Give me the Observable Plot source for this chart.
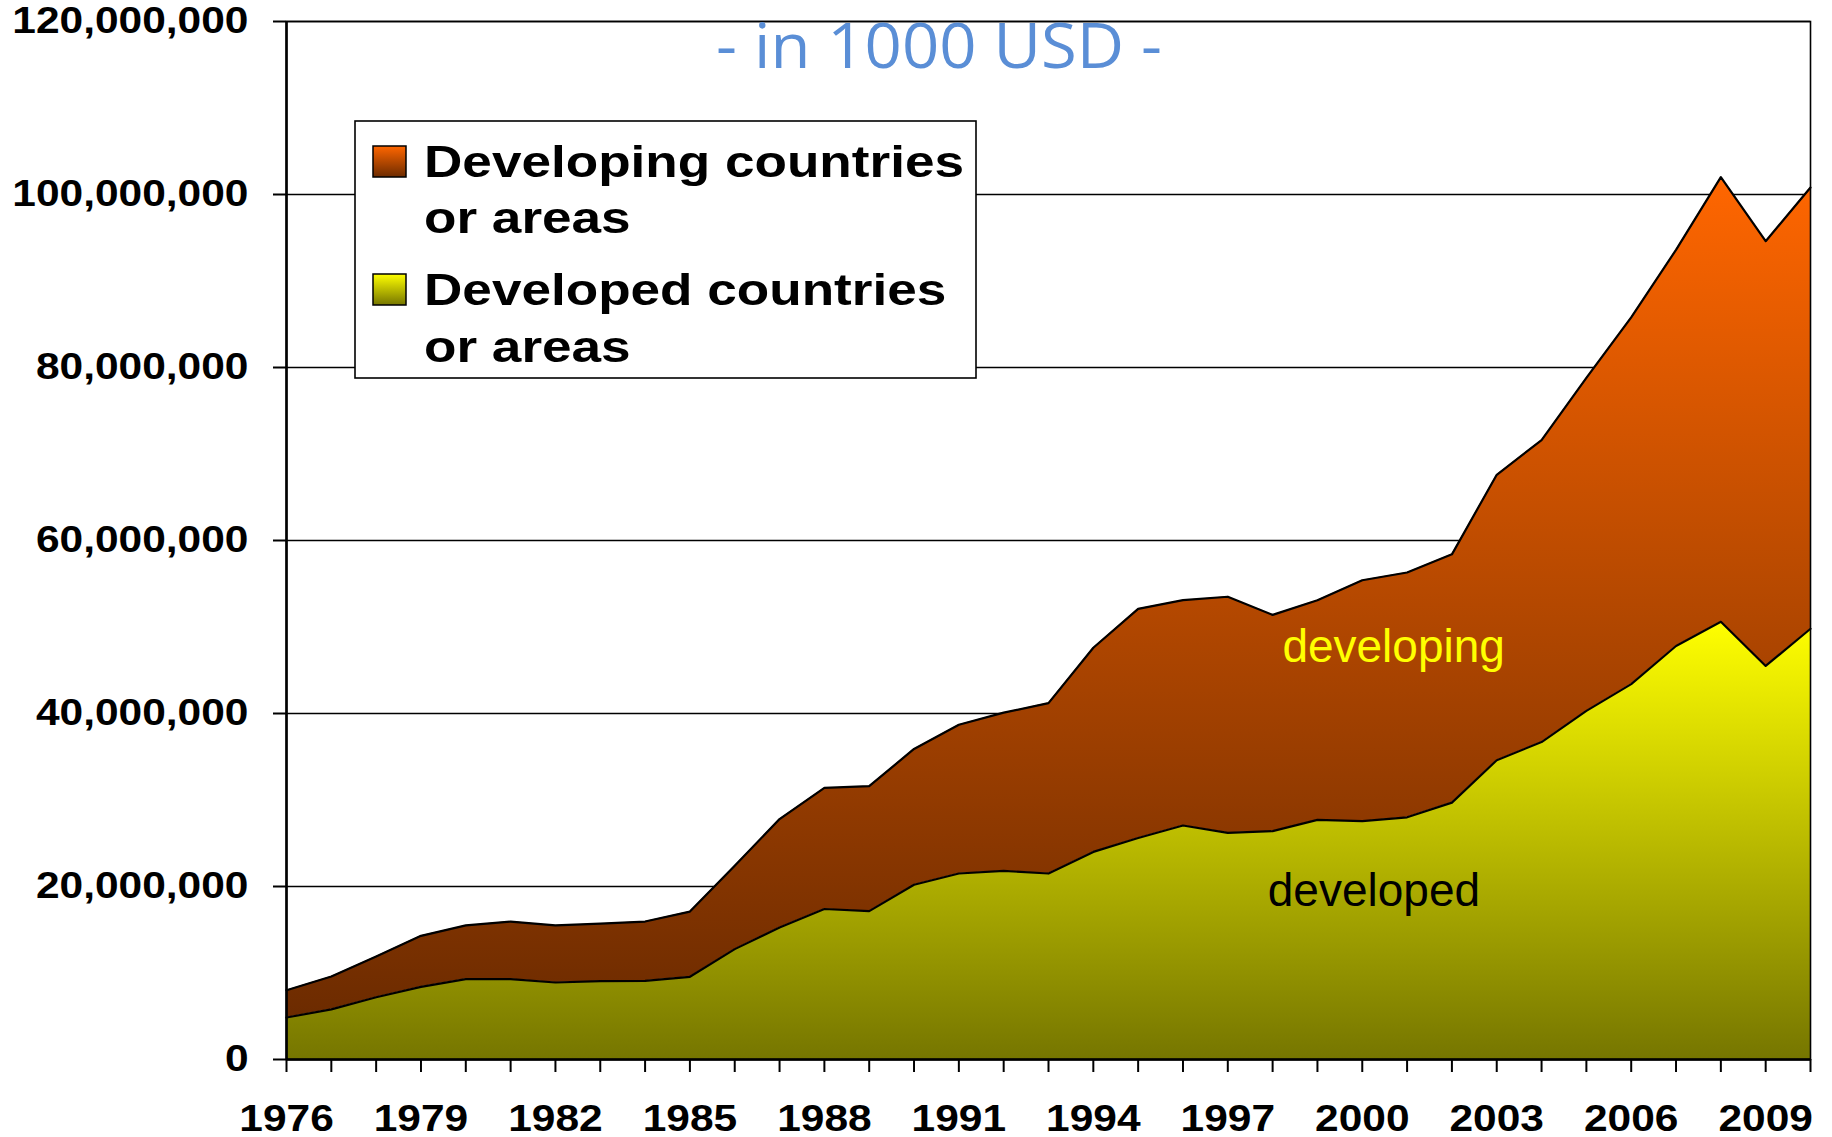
<!DOCTYPE html>
<html>
<head>
<meta charset="utf-8">
<script src="https://cdn.jsdelivr.net/npm/d3@7"></script>
<script src="https://cdn.jsdelivr.net/npm/@observablehq/plot@0.6"></script>
<style>
  html, body { margin: 0; padding: 0; background: #fff; overflow: hidden; }
  #chart { position: relative; width: 1832px; height: 1137px; }
</style>
</head>
<body>
<div id="chart"></div>
<script>
// ---- Data (values in 1000 USD) ----
const years = [1976, 1977, 1978, 1979, 1980, 1981, 1982, 1983, 1984, 1985, 1986, 1987, 1988, 1989, 1990,
  1991, 1992, 1993, 1994, 1995, 1996, 1997, 1998, 1999, 2000, 2001, 2002, 2003, 2004, 2005, 2006, 2007, 2008, 2009, 2010];

const developed = [4860000, 5800000, 7200000, 8400000, 9300000, 9300000, 8900000, 9060000, 9100000, 9560000,
  12760000, 15260000, 17400000, 17150000, 20200000, 21500000, 21800000, 21500000, 24000000, 25600000,
  27050000, 26200000, 26400000, 27700000, 27550000, 28000000, 29700000, 34600000, 36700000, 40300000,
  43400000, 47800000, 50600000, 45500000, 49800000];

const developing = [3140000, 3800000, 4700000, 5900000, 6200000, 6650000, 6600000, 6640000, 6850000, 7540000,
  9640000, 12540000, 14000000, 14450000, 15700000, 17200000, 18300000, 19700000, 23600000, 26500000,
  26050000, 27300000, 25000000, 25400000, 27850000, 28300000, 28700000, 33000000, 34900000, 38500000,
  42400000, 45800000, 51400000, 49100000, 51000000];

const seriesNames = ["Developed countries or areas", "Developing countries or areas"];
const legendLines = [["Developing countries", "or areas"], ["Developed countries", "or areas"]];
const xLabelYears = [1976, 1979, 1982, 1985, 1988, 1991, 1994, 1997, 2000, 2003, 2006, 2009];
const yTicks = [0, 20000000, 40000000, 60000000, 80000000, 100000000, 120000000];
const titleText = "- in 1000 USD -";
const areaLabels = [
  {text: "developing", year: 2000.7, value: 47600000},
  {text: "developed", year: 2000.26, value: 19500000}
];

// ---- Build table ----
const rows = years.flatMap((year, i) => [
  {year, series: seriesNames[0], value: developed[i]},
  {year, series: seriesNames[1], value: developing[i]}
]);

const plot = Plot.plot({
  width: 1832,
  height: 1137,
  marginLeft: 286,
  marginRight: 22,
  marginTop: 21,
  marginBottom: 78,
  style: {
    fontFamily: "'Liberation Sans', Arial, sans-serif",
    fontSize: "36px",
    fontWeight: "bold",
    color: "black",
    background: "white",
    overflow: "visible"
  },
  x: {domain: [1976, 2010]},
  y: {domain: [0, 120000000]},
  color: {domain: seriesNames, range: ["url(#gDeveloped)", "url(#gDeveloping)"]},
  marks: [
    Plot.gridY(yTicks, {stroke: "black", strokeOpacity: 1, strokeWidth: 1.6}),
    Plot.areaY(rows, Plot.stackY({x: "year", y: "value", z: "series", fill: "series"})),
    Plot.lineY(rows, Plot.stackY2({x: "year", y: "value", z: "series", stroke: "black", strokeWidth: 2.2})),
    Plot.frame({stroke: "black", strokeWidth: 1.6}),
    Plot.ruleX([1976], {stroke: "black", strokeWidth: 2.6}),
    Plot.ruleY([0], {stroke: "black", strokeWidth: 2.6}),
    Plot.axisY({ticks: yTicks, tickFormat: d3.format(","), tickSize: 13, tickPadding: 25,
      strokeWidth: 2, fontSize: 36, fontWeight: "bold", label: null}),
    Plot.axisX({ticks: years, tickFormat: d => xLabelYears.includes(d) ? String(d) : "",
      tickSize: 13, tickPadding: 33, strokeWidth: 2, fontSize: 36, fontWeight: "bold", label: null}),
    Plot.text([areaLabels[0]], {x: "year", y: "value", text: "text", fill: "#ffff00",
      fontSize: 46, fontWeight: "normal", textAnchor: "middle", fontFamily: "'Liberation Sans', Arial, sans-serif"}),
    Plot.text([areaLabels[1]], {x: "year", y: "value", text: "text", fill: "black",
      fontSize: 46, fontWeight: "normal", textAnchor: "middle", fontFamily: "'Liberation Sans', Arial, sans-serif"})
  ]
});

document.getElementById("chart").append(plot);

const svg = d3.select(plot);
const defs = svg.insert("defs", ":first-child");
function grad(id, top, bottom) {
  const g = defs.append("linearGradient").attr("id", id)
    .attr("x1", 0).attr("y1", 0).attr("x2", 0).attr("y2", 1);
  g.append("stop").attr("offset", "0%").attr("stop-color", top);
  g.append("stop").attr("offset", "100%").attr("stop-color", bottom);
}
grad("gDeveloped", "#ffff00", "#767600");
grad("gDeveloping", "#ff6600", "#6c2b00");

// Horizontally stretched bold axis labels, as in the original
svg.selectAll('g[aria-label="y-axis tick label"] text, g[aria-label="x-axis tick label"] text').each(function () {
  if (!this.textContent) return;
  const len = this.getComputedTextLength();
  this.setAttribute("textLength", len * 1.18);
  this.setAttribute("lengthAdjust", "spacingAndGlyphs");
});

// Title
const title = svg.append("text")
  .attr("x", 716).attr("y", 67.5)
  .attr("text-anchor", "start")
  .attr("font-family", "'Open Sans', sans-serif")
  .attr("font-size", 63).attr("font-weight", "normal")
  .attr("fill", "#5a8ed6")
  .text(titleText);
title.attr("textLength", 446).attr("lengthAdjust", "spacingAndGlyphs");

// Legend box
const lg = svg.append("g").attr("class", "legend").attr("text-anchor", "start");
lg.append("rect").attr("x", 355).attr("y", 121).attr("width", 621).attr("height", 257)
  .attr("fill", "white").attr("stroke", "black").attr("stroke-width", 1.6);
const legendItems = [
  {lines: legendLines[0], fill: "url(#gDeveloping)", top: 146, base: [177, 233]},
  {lines: legendLines[1], fill: "url(#gDeveloped)", top: 274, base: [305, 362]}
];
legendItems.forEach(item => {
  lg.append("rect").attr("x", 373).attr("y", item.top).attr("width", 33).attr("height", 31)
    .attr("fill", item.fill).attr("stroke", "black").attr("stroke-width", 1.5);
  item.lines.forEach((line, j) => {
    const t = lg.append("text").attr("x", 424).attr("y", item.base[j])
      .attr("text-anchor", "start")
      .attr("font-family", "'Liberation Sans', Arial, sans-serif")
      .attr("font-size", 45).attr("font-weight", "bold").attr("fill", "black")
      .text(line);
    const len = t.node().getComputedTextLength();
    t.attr("textLength", len * 1.18).attr("lengthAdjust", "spacingAndGlyphs");
  });
});
</script>
</body>
</html>
